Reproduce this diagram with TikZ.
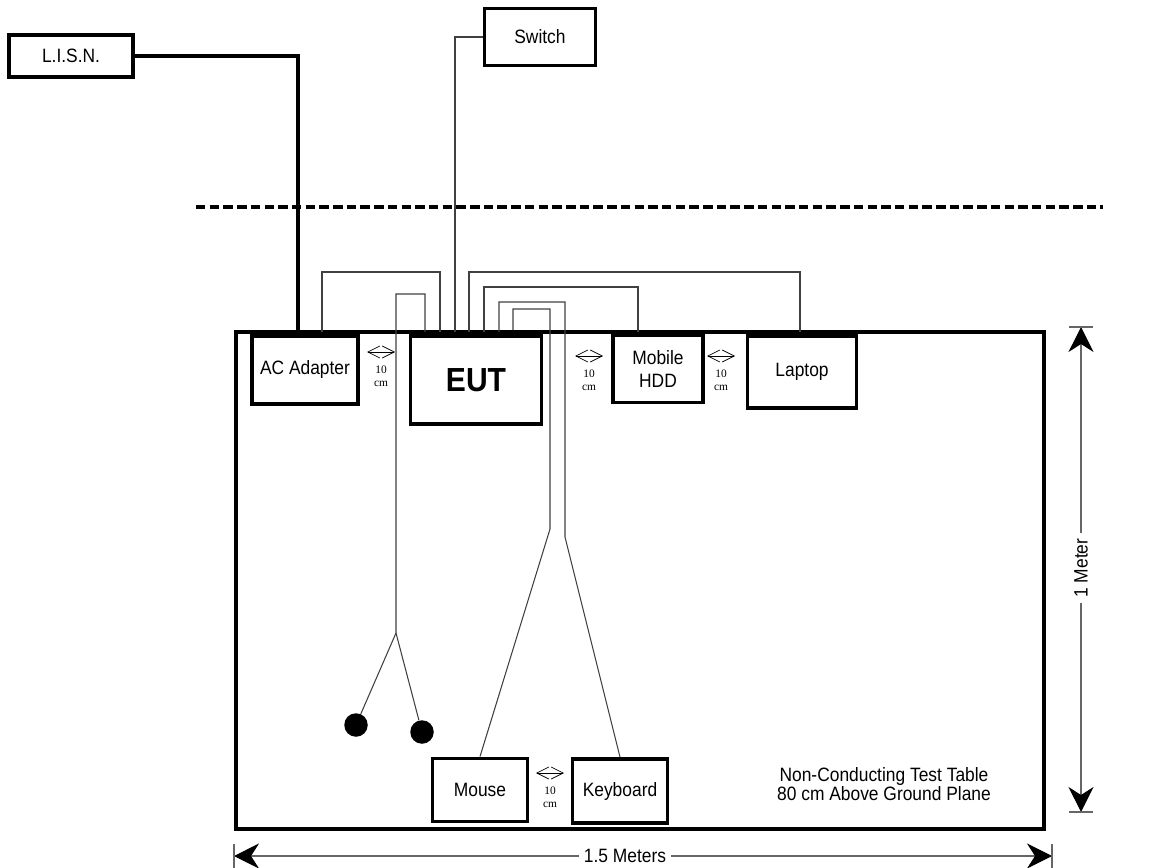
\documentclass[tikz,border=0pt]{standalone}
\usepackage{fontspec}
\setmainfont{Liberation Sans}[FakeStretch=0.9]
\newfontfamily\notefont{Liberation Serif}
\usetikzlibrary{arrows.meta}

\begin{document}
\begin{tikzpicture}[x=0.02cm, y=-0.02cm,
    every node/.style={inner sep=0pt, font=\fontsize{11}{13}\selectfont},
    unit/.style={draw, line width=2.2pt, align=center},
    wire/.style={line width=0.6pt, black!75},
    power/.style={line width=2pt},
    bud/.style={circle, fill, minimum size=0.47cm},
    gap/.style={line width=0.4pt, {Straight Barb[length=2.4mm,width=2.4mm]}-{Straight Barb[length=2.4mm,width=2.4mm]}},
    note/.style={align=center, font=\notefont\fontsize{6.5}{7.5}\selectfont},
    dim/.style={black!60, line width=0.6pt, {Stealth[length=5mm,width=5mm,inset=1.6mm,color=black]}-{Stealth[length=5mm,width=5mm,inset=1.6mm,color=black]}},
    dimtext/.style={fill=white, inner xsep=3pt}]
    \useasboundingbox (0,0) rectangle (1176,868);

    % Table and setup line
    \draw[line width=2.8pt] (236,332) rectangle (1044,829);
    \draw[line width=2.4pt, dash pattern=on 5.4pt off 2.4pt] (196,207) -- (1103,207);

    % Units
    \node[unit, minimum width=2.48cm, minimum height=0.84cm] (lisn) at (71,56) {L.I.S.N.};
    \node[unit, minimum width=2.22cm, minimum height=1.14cm] (switch) at (540,37) {Switch};
    \node[unit, minimum width=2.12cm, minimum height=1.36cm] (adapter) at (305,370) {AC Adapter};
    \node[unit, minimum width=2.62cm, minimum height=1.76cm, font=\fontsize{19}{22}\selectfont\bfseries] (eut) at (476,380) {EUT};
    \node[unit, minimum width=1.8cm, minimum height=1.34cm] (hdd) at (658,369) {Mobile\\HDD};
    \node[unit, minimum width=2.18cm, minimum height=1.44cm] (laptop) at (802,372) {Laptop};
    \node[unit, minimum width=1.9cm, minimum height=1.26cm] (mouse) at (480,790) {Mouse};
    \node[unit, minimum width=1.9cm, minimum height=1.28cm] (kbd) at (620,791) {Keyboard};
    \node[bud] (bud1) at (356,725) {};
    \node[bud] (bud2) at (422,732) {};
    \node[align=center, font=\fontsize{11}{9.8}\selectfont] (tbl) at (884,784) {Non-Conducting Test Table\\80 cm Above Ground Plane};

    % Cable ends on the table edge
    \coordinate (acin) at (298,332);
    \coordinate (acout) at (322,332);
    \coordinate (eutau) at (425,332);
    \coordinate (eutdc) at (440,332);
    \coordinate (eutsw) at (455,332);
    \coordinate (eutlan) at (469,332);
    \coordinate (eutusb) at (484,332);
    \coordinate (eutkb) at (499,332);
    \coordinate (eutms) at (513,330);
    \coordinate (hddin) at (638,332);
    \coordinate (lapin) at (800,332);
    \coordinate (split) at (396,633);

    % Cables
    \draw[power] (lisn.east) -| (acin);
    \draw[wire] (switch.west) -| (eutsw);
    \draw[wire] (acout) -- ++(0,-60) -| (eutdc);
    \draw[wire] (eutlan) -- ++(0,-60) -| (lapin);
    \draw[wire] (eutusb) -- ++(0,-45) -| (hddin);
    \draw[wire] (eutkb) -- ++(0,-30) -| (565,537) -- (kbd.north);
    \draw[wire] (eutms) -- ++(0,-21) -| (550,529) -- (mouse.north);
    \draw[wire] (eutau) -- ++(0,-38) -| (split) -- (bud1);
    \draw[wire] (split) -- (bud2);

    % 10 cm spacing marks
    \foreach \x/\y [count=\i] in {381/352, 589/356, 721/356, 550/773} {
        \draw[gap] (\x-14,\y) -- (\x+14,\y);
        \node[note] (gap\i) at (\x,\y+24) {10\\cm};
    }

    % Dimensions
    \coordinate (ytop) at (1081,327);
    \coordinate (ybot) at (1081,812);
    \draw[dim] (ytop) -- (ybot);
    \draw[black!60, line width=0.6pt] (1069,327) -- (1093,327) (1069,812) -- (1093,812);
    \node[dimtext, rotate=90] (meter) at (1081,568) {1 Meter};

    \coordinate (xleft) at (234,856);
    \coordinate (xright) at (1052,856);
    \draw[dim] (xleft) -- (xright);
    \draw[black!60, line width=0.6pt] (234,844) -- (234,868) (1052,844) -- (1052,868);
    \node[dimtext] (meters) at (625,856) {1.5 Meters};
\end{tikzpicture}
\end{document}
